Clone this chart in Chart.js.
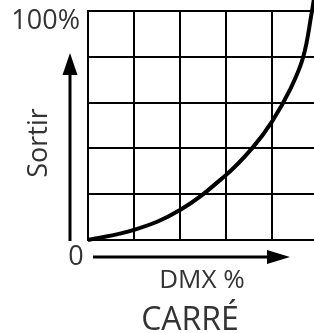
<!DOCTYPE html>
<html>
<head>
<meta charset="utf-8">
<script src="https://cdn.jsdelivr.net/npm/chart.js@4/dist/chart.umd.min.js"></script>
<style>
  html, body { margin: 0; padding: 0; overflow: hidden; background: #fff; }
  #wrap { width: 314px; height: 333px; overflow: hidden; }
</style>
</head>
<body>
<div id="wrap"><canvas id="courbe" width="330" height="333"></canvas></div>
<script>
// valeurs (DMX % -> sortie %)
var dmx    = [0, 20, 40, 60, 71.3, 80, 88, 93.6, 97.4, 98.2];
var sortie = [0, 4.4, 13.1, 28.4, 40, 51.7, 66, 80, 100, 105];
var gridTicks = [0, 20, 40, 60, 80, 100];

var police = '"Open Sans", "DejaVu Sans", sans-serif';

// textes et fleches autour de la grille
var habillage = {
  id: 'habillage',
  afterDraw: function (chart) {
    var c = chart.ctx;
    c.save();
    c.fillStyle = '#333';
    c.font = '27px ' + police;
    c.textAlign = 'right';
    c.textBaseline = 'alphabetic';
    c.fillText('100%', 80, 29);
    c.textAlign = 'center';
    c.fillText('0', 76, 265);

    c.font = '26px ' + police;
    c.fillText('DMX %', 202, 288);
    c.font = '32px ' + police;
    c.fillText('CARRÉ', 190, 330);

    c.save();
    c.translate(47, 143);
    c.rotate(-Math.PI / 2);
    c.font = '27px ' + police;
    c.textAlign = 'center';
    c.fillText('Sortir', 0, 0);
    c.restore();

    // fleche verticale
    c.strokeStyle = '#000';
    c.fillStyle = '#000';
    c.lineWidth = 3;
    c.beginPath();
    c.moveTo(70, 241);
    c.lineTo(70, 72);
    c.stroke();
    c.beginPath();
    c.moveTo(70, 53);
    c.lineTo(62.5, 75);
    c.lineTo(77.5, 75);
    c.closePath();
    c.fill();

    // fleche horizontale
    c.beginPath();
    c.moveTo(93, 257);
    c.lineTo(270, 257);
    c.stroke();
    c.beginPath();
    c.moveTo(290, 257);
    c.lineTo(267, 250);
    c.lineTo(267, 264);
    c.closePath();
    c.fill();
    c.restore();
  }
};

new Chart(document.getElementById('courbe'), {
  type: 'line',
  data: {
    datasets: [{
      data: dmx.map(function (x, i) { return { x: x, y: sortie[i] }; }),
      borderColor: '#000',
      borderWidth: 4,
      pointRadius: 0,
      tension: 0.4,
      fill: false,
      clip: false
    }]
  },
  options: {
    responsive: false,
    animation: false,
    layout: { padding: { left: 88, top: 11, right: 12, bottom: 93 } },
    plugins: { legend: { display: false }, tooltip: { enabled: false } },
    scales: {
      x: {
        type: 'linear', min: 0, max: 100,
        afterBuildTicks: function (s) { s.ticks = gridTicks.map(function (v) { return { value: v }; }); },
        ticks: { display: false },
        grid: { color: '#000', lineWidth: 2, drawTicks: false },
        border: { display: true, color: '#000', width: 2 }
      },
      y: {
        type: 'linear', min: 0, max: 100,
        afterBuildTicks: function (s) { s.ticks = gridTicks.map(function (v) { return { value: v }; }); },
        ticks: { display: false },
        grid: { color: '#000', lineWidth: 2, drawTicks: false },
        border: { display: true, color: '#000', width: 2 }
      }
    }
  },
  plugins: [habillage]
});
</script>
</body>
</html>
